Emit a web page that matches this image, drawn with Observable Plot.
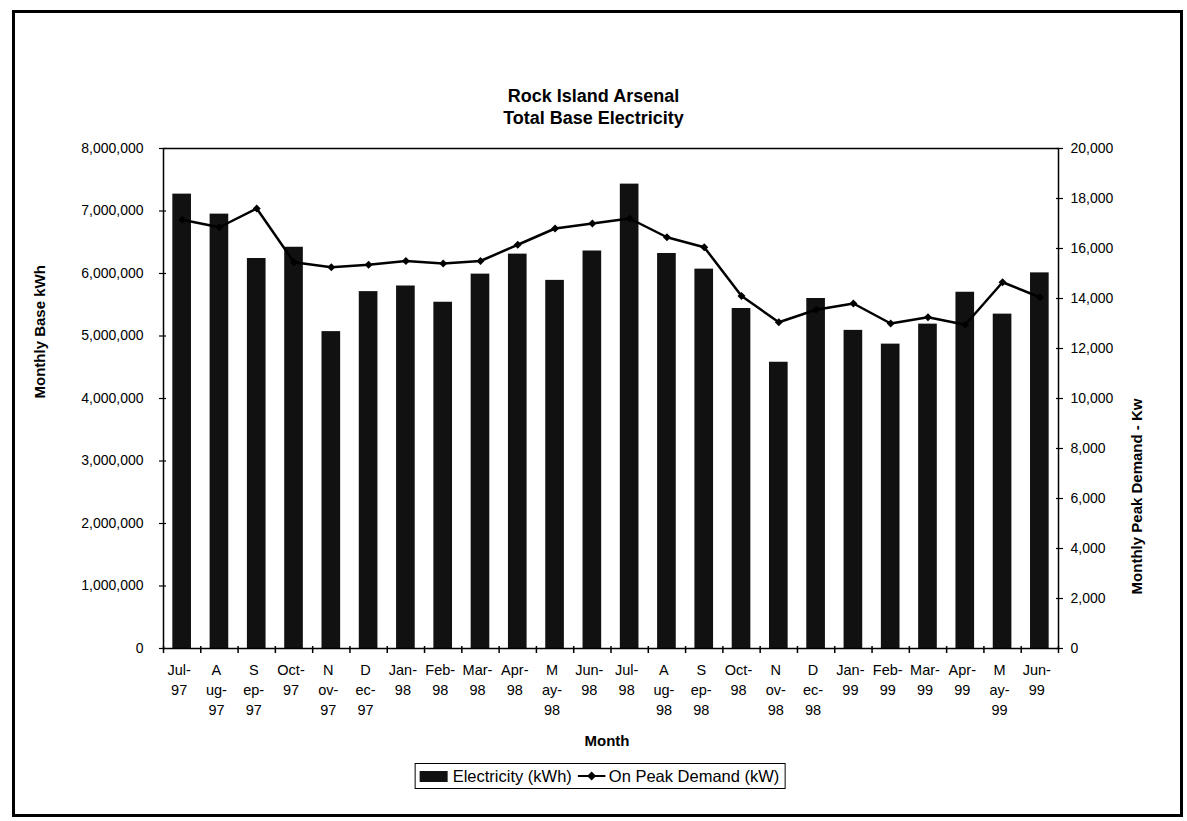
<!DOCTYPE html>
<html>
<head>
<meta charset="utf-8">
<script src="https://cdn.jsdelivr.net/npm/d3@7"></script>
<script src="https://cdn.jsdelivr.net/npm/@observablehq/plot@0.6"></script>
<style>
  body { margin: 0; background: #fff; font-family: "Liberation Sans", Arial, Helvetica, sans-serif; }
  #page { position: relative; width: 1187px; height: 821px; overflow: hidden; background: #fff; }
  #border { position: absolute; left: 12px; top: 10px; width: 1171px; height: 807px; box-sizing: border-box; border: 3px solid #000; }
  #chart { position: absolute; left: 0; top: 0; }
  #title { position: absolute; left: 0; top: 85px; width: 1187px; text-align: center; font-weight: bold; font-size: 18px; line-height: 22px; color: #000; }
  #legend { position: absolute; left: 600px; top: 763px; transform: translateX(-50%); border: 1px solid #000; padding: 3px 5px 3px 4px; font-size: 16.5px; line-height: 18px; white-space: nowrap; display: flex; align-items: center; background: #fff; }
  #legend .sw { display: inline-block; width: 28px; height: 11px; background: #111; margin-right: 5px; }
  #legend svg { margin: 0 3px 0 6px; }
</style>
</head>
<body>
<div id="page">
  <div id="border"></div>
  <div id="chart"></div>
  <div id="title">Rock Island Arsenal<br>Total Base Electricity</div>
  <div id="legend"><span class="sw"></span><span>Electricity (kWh)</span><svg width="28" height="12"><line x1="0" y1="6" x2="28" y2="6" stroke="#000" stroke-width="2"/><path d="M14,1.5 L18.5,6 L14,10.5 L9.5,6 Z" fill="#000"/></svg><span>On Peak Demand (kW)</span></div>
</div>
<script>
// ---- data ----
const months = ["Jul-97","Aug-97","Sep-97","Oct-97","Nov-97","Dec-97","Jan-98","Feb-98","Mar-98","Apr-98","May-98","Jun-98",
                "Jul-98","Aug-98","Sep-98","Oct-98","Nov-98","Dec-98","Jan-99","Feb-99","Mar-99","Apr-99","May-99","Jun-99"];
const monthTickLabels = ["Jul-\n97","A\nug-\n97","S\nep-\n97","Oct-\n97","N\nov-\n97","D\nec-\n97","Jan-\n98","Feb-\n98","Mar-\n98","Apr-\n98","M\nay-\n98","Jun-\n98",
                         "Jul-\n98","A\nug-\n98","S\nep-\n98","Oct-\n98","N\nov-\n98","D\nec-\n98","Jan-\n99","Feb-\n99","Mar-\n99","Apr-\n99","M\nay-\n99","Jun-\n99"];
const electricityKWh = [7270000, 6950000, 6240000, 6420000, 5070000, 5710000, 5800000, 5540000, 5990000, 6310000, 5890000, 6360000,
                        7430000, 6320000, 6070000, 5440000, 4580000, 5600000, 5090000, 4870000, 5190000, 5700000, 5350000, 6010000];
const peakDemandKW = [17150, 16850, 17600, 15450, 15250, 15350, 15500, 15400, 15500, 16150, 16800, 17000,
                      17200, 16450, 16050, 14100, 13050, 13550, 13800, 13000, 13250, 12950, 14650, 14050];
const leftTicks = [0, 1000000, 2000000, 3000000, 4000000, 5000000, 6000000, 7000000, 8000000];
const rightTicks = [0, 2000, 4000, 6000, 8000, 10000, 12000, 14000, 16000, 18000, 20000];

const leftMax = 8000000, rightMax = 20000;
const k = leftMax / rightMax; // maps kW onto the kWh axis

const rows = months.map((m, i) => ({month: m, kwh: electricityKWh[i], kw: peakDemandKW[i]}));
const labelOf = new Map(months.map((m, i) => [m, monthTickLabels[i]]));
const fmt = d3.format(",");

const W = 1187, H = 760, mL = 163, mR = 129, mT = 148, mB = 112;
const innerH = H - mT - mB;
const bw = (W - mL - mR) / months.length;

const chart = Plot.plot({
  width: W, height: H,
  marginLeft: mL, marginRight: mR, marginTop: mT, marginBottom: mB,
  style: {fontFamily: '"Liberation Sans", Arial, Helvetica, sans-serif', color: "#000", background: "transparent"},
  x: {type: "band", domain: months, paddingInner: 0.5, paddingOuter: 0.25, align: 0.5, round: false},
  y: {domain: [0, leftMax]},
  marks: [
    Plot.barY(rows, {x: "month", y: "kwh", fill: "#111"}),
    Plot.line(rows, {x: "month", y: d => d.kw * k, stroke: "#000", strokeWidth: 2.5}),
    Plot.dot(rows, {x: "month", y: d => d.kw * k, symbol: "diamond2", r: 3.6, fill: "#000", stroke: "none"}),
    Plot.frame({stroke: "#000", strokeWidth: 1.5}),
    Plot.axisY(leftTicks, {anchor: "left", tickSize: 7, dx: 3, tickPadding: 16, tickFormat: fmt, fontSize: 14, label: null, strokeWidth: 1.2}),
    Plot.axisY(rightTicks.map(v => v * k), {anchor: "right", tickSize: 7, dx: -3, tickPadding: 8, tickFormat: d => fmt(Math.round(d / k)), fontSize: 14, label: null, strokeWidth: 1.2}),
    Plot.axisX({tickSize: 0, tickPadding: 12, tickFormat: d => labelOf.get(d), fontSize: 14.5, lineHeight: 1.38, dx: -3, label: null}),
    Plot.tickX(rows, {x: "month", dx: -bw / 2, dy: 5, insetTop: innerH - 7, stroke: "#000", strokeWidth: 1.5}),
    Plot.tickX(rows.slice(-1), {x: "month", dx: bw / 2, dy: 5, insetTop: innerH - 7, stroke: "#000", strokeWidth: 1.5}),
    Plot.text(["Monthly Base kWh"], {frameAnchor: "left", dx: -123, rotate: -90, fontSize: 15, fontWeight: "bold", fill: "#000"}),
    Plot.text(["Monthly Peak Demand - Kw"], {frameAnchor: "right", dx: 79, rotate: -90, fontSize: 15, fontWeight: "bold", fill: "#000"}),
    Plot.text(["Month"], {frameAnchor: "bottom", dy: 97, dx: -4, fontSize: 15, fontWeight: "bold", fill: "#000"})
  ]
});
document.getElementById("chart").appendChild(chart);
</script>
</body>
</html>
